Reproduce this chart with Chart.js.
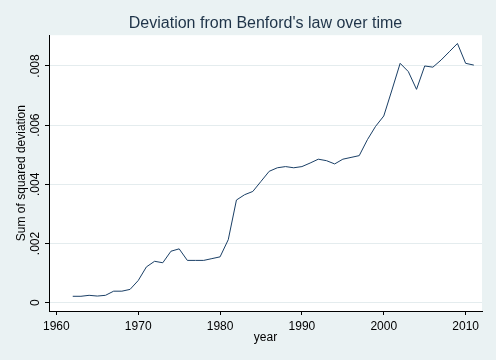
<!DOCTYPE html>
<html><head><meta charset="utf-8">
<script src="https://cdn.jsdelivr.net/npm/chart.js@4/dist/chart.umd.min.js"></script>
<style>html,body{margin:0;padding:0;background:#eaf2f3;}#wrap{width:496px;height:360px;}</style>
</head><body><div id="wrap"><canvas id="c" width="496" height="360"></canvas></div>
<script>
const years = [1962,1963,1964,1965,1966,1967,1968,1969,1970,1971,1972,1973,1974,1975,1976,1977,1978,1979,1980,1981,1982,1983,1984,1985,1986,1987,1988,1989,1990,1991,1992,1993,1994,1995,1996,1997,1998,1999,2000,2001,2002,2003,2004,2005,2006,2007,2008,2009,2010,2011];
const deviation = [0.000217,0.000217,0.000250,0.000225,0.000250,0.000390,0.000390,0.000450,0.000750,0.001210,0.001400,0.001350,0.001740,0.001820,0.001430,0.001430,0.001430,0.001490,0.001550,0.002130,0.003470,0.003650,0.003760,0.004100,0.004440,0.004560,0.004600,0.004560,0.004600,0.004720,0.004850,0.004800,0.004690,0.004850,0.004910,0.004970,0.005510,0.005960,0.006310,0.007190,0.008090,0.007810,0.007210,0.008000,0.007960,0.008200,0.008480,0.008760,0.008090,0.008030];
const xTickValues = [1960,1970,1980,1990,2000,2010];
const yTickValues = [0,0.002,0.004,0.006,0.008];
const yTickLabels = ['0','.002','.004','.006','.008'];

const FONT = "'Liberation Sans', Arial, sans-serif";
const bgPlugin = {
  id: 'bg',
  afterLayout(chart) {
    const t = chart.titleBlock;
    if (t) { t.left = chart.chartArea.left; t.right = chart.chartArea.right; t.width = t.right - t.left; }
  },
  beforeDraw(chart) {
    const {ctx, chartArea: a} = chart;
    ctx.save();
    ctx.fillStyle = '#eaf2f3';
    ctx.fillRect(0, 0, chart.width, chart.height);
    ctx.fillStyle = '#ffffff';
    ctx.fillRect(a.left, a.top, a.right - a.left, a.bottom - a.top);
    ctx.restore();
  }
};

new Chart(document.getElementById('c'), {
  type: 'line',
  data: {
    datasets: [{
      data: years.map((y, i) => ({x: y, y: deviation[i]})),
      borderColor: '#1a3f66',
      borderWidth: 1,
      pointRadius: 0,
      tension: 0,
      fill: false
    }]
  },
  options: {
    responsive: false,
    animation: false,
    devicePixelRatio: 1,
    layout: {padding: {left: 0, right: 14, top: 0, bottom: 0}},
    plugins: {
      legend: {display: false},
      tooltip: {enabled: false},
      title: {
        display: true,
        text: "Deviation from Benford's law over time",
        color: '#1e3348',
        font: {family: FONT, size: 16, weight: 'normal'},
        padding: {top: 14, bottom: 2}
      }
    },
    scales: {
      x: {
        type: 'linear',
        min: 1959.1,
        max: 2012,
        afterBuildTicks: s => { s.ticks = xTickValues.map(v => ({value: v})); },
        afterFit: s => { s.height = 49; },
        ticks: {
          font: {family: FONT, size: 12},
          color: '#000',
          padding: 4,
          maxRotation: 0,
          autoSkip: false,
          callback: v => String(v)
        },
        grid: {drawOnChartArea: false, drawTicks: true, tickLength: 4, tickColor: '#000', lineWidth: 1},
        border: {display: true, color: '#000', width: 1},
        title: {display: true, text: 'year', color: '#000', font: {family: FONT, size: 12}, padding: {top: 0, bottom: 15}}
      },
      y: {
        type: 'linear',
        min: -0.00028,
        max: 0.00904,
        afterBuildTicks: s => { s.ticks = yTickValues.map(v => ({value: v})); },
        afterFit: s => { s.width = 49; },
        ticks: {
          font: {family: FONT, size: 12},
          color: '#000',
          padding: -2,
          minRotation: 90,
          maxRotation: 90,
          crossAlign: 'center',
          callback: (v, i) => yTickLabels[i]
        },
        grid: {color: '#e4ecee', lineWidth: 1, tickLength: 4, tickColor: '#000', drawOnChartArea: true},
        border: {display: true, color: '#000', width: 1},
        title: {display: true, text: 'Sum of squared deviation', color: '#000', font: {family: FONT, size: 12}, padding: {top: 14, bottom: 0}}
      }
    }
  },
  plugins: [bgPlugin]
});
</script>
</body></html>
